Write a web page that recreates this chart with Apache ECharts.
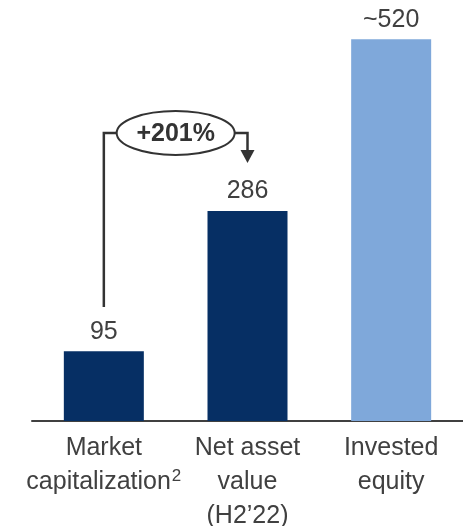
<!DOCTYPE html>
<html>
<head>
<meta charset="utf-8">
<script src="https://cdn.jsdelivr.net/npm/echarts@6/dist/echarts.min.js"></script>
<style>html,body{margin:0;padding:0;background:#fff}#c{width:463px;height:526px}</style>
</head>
<body>
<div id="c"></div>
<script>
const categories = ['Market\ncapitalization{sup|2}', 'Net asset\nvalue\n(H2’22)', 'Invested\nequity'];
const values = [95, 286, 520];
const valueLabels = ['95', '286', '~520'];
const barColors = ['#062F64', '#062F64', '#7FA8DA'];
const growthLabel = '+201%';

const FONT = '"Liberation Sans", Arial, sans-serif';
const chart = echarts.init(document.getElementById('c'), null, {renderer: 'canvas'});

chart.setOption({
  animation: false,
  grid: {left: 32, right: 0, top: 21, bottom: 105, containLabel: false, outerBoundsMode: 'none'},
  xAxis: {
    type: 'category',
    data: categories,
    axisLine: {lineStyle: {color: '#404040', width: 2}},
    axisTick: {show: false},
    axisLabel: {
      color: '#404040', fontSize: 25, lineHeight: 34, fontFamily: FONT, margin: 10, interval: 0,
      hideOverlap: false,
      rich: {sup: {fontSize: 17, lineHeight: 20, verticalAlign: 'top', color: '#404040', fontFamily: FONT, padding: [3, 0, 0, 1]}}
    }
  },
  yAxis: {
    type: 'value', min: 0, max: 545,
    show: false, splitLine: {show: false}
  },
  series: [{
    type: 'bar',
    barWidth: 80,
    data: values.map((v, i) => ({value: v, itemStyle: {color: barColors[i]}})),
    label: {
      show: true, position: 'top', distance: 7,
      color: '#404040', fontSize: 25, fontFamily: FONT,
      formatter: p => valueLabels[p.dataIndex]
    }
  }]
});

// annotation bracket
const x0 = chart.convertToPixel({xAxisIndex: 0}, categories[0]);
const x1 = chart.convertToPixel({xAxisIndex: 0}, categories[1]);
const yBase = chart.convertToPixel({yAxisIndex: 0}, 0);
const yTop = yBase - 288;       // bracket level
const yLeftEnd = yBase - 114;   // bottom of left leg
const yArrowTip = yBase - 258;
const cx = (x0 + x1) / 2;
const rx = 59, ry = 22;
const stroke = '#333333';

chart.setOption({
  graphic: [
    {type: 'polyline', shape: {points: [[x0, yLeftEnd], [x0, yTop], [cx - rx, yTop]]},
     style: {stroke, lineWidth: 2.5, fill: null}},
    {type: 'polyline', shape: {points: [[cx + rx, yTop], [x1, yTop], [x1, yArrowTip - 12]]},
     style: {stroke, lineWidth: 2.5, fill: null}},
    {type: 'polygon', shape: {points: [[x1 - 7, yArrowTip - 13], [x1 + 7, yArrowTip - 13], [x1, yArrowTip]]},
     style: {fill: stroke}},
    {type: 'ellipse', shape: {cx, cy: yTop, rx, ry},
     style: {stroke, lineWidth: 2, fill: '#fff'}},
    {type: 'text', x: cx, y: yTop + 1,
     style: {text: growthLabel, fill: '#333', font: 'bold 25px ' + FONT, textAlign: 'center', textVerticalAlign: 'middle'}}
  ]
});
</script>
</body>
</html>
